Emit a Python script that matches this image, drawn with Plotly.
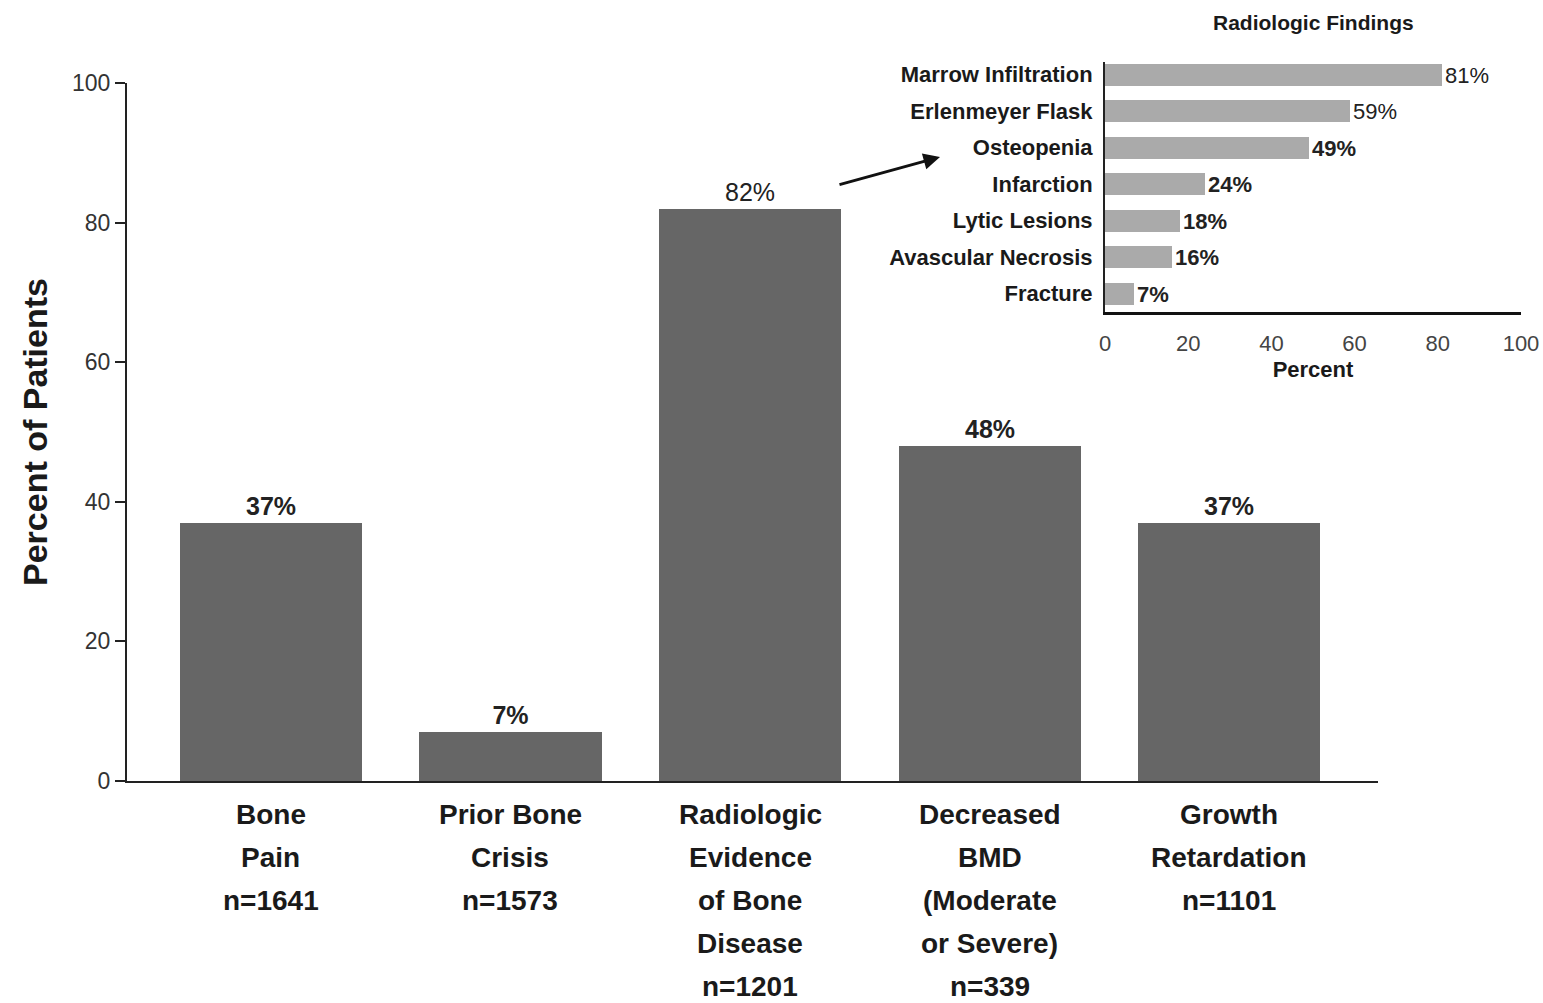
import plotly.graph_objects as go

# Main chart: bone manifestations
categories = ["Bone<br>Pain<br>n=1641",
              "Prior Bone<br>Crisis<br>n=1573",
              "Radiologic<br>Evidence<br>of Bone<br>Disease<br>n=1201",
              "Decreased<br>BMD<br>(Moderate<br>or Severe)<br>n=339",
              "Growth<br>Retardation<br>n=1101"]
percents = [37, 7, 82, 48, 37]
percent_bold = [True, True, False, True, True]

# Inset: radiologic findings
findings = ["Marrow Infiltration", "Erlenmeyer Flask", "Osteopenia", "Infarction",
            "Lytic Lesions", "Avascular Necrosis", "Fracture"]
finding_pct = [81, 59, 49, 24, 18, 16, 7]
finding_bold = [False, False, True, True, True, True, True]

y_ticks = [0, 20, 40, 60, 80, 100]
inset_ticks = [0, 20, 40, 60, 80, 100]

FONT = "Liberation Sans, Arial, sans-serif"
W, H = 1543, 1003


def label(v, bold):
    t = f"{v}%"
    return f"<b>{t}</b>" if bold else t


fig = go.Figure()

xs = list(range(len(categories)))
fig.add_trace(go.Bar(
    x=xs, y=percents, width=0.76,
    marker=dict(color="#666666", line=dict(width=0)),
    text=[label(v, b) for v, b in zip(percents, percent_bold)],
    textposition="outside", cliponaxis=False, constraintext="none",
    textfont=dict(family=FONT, size=25, color="#222222"),
    xaxis="x", yaxis="y", showlegend=False,
))

# inset bars, listed bottom-to-top
fig.add_trace(go.Bar(
    y=findings[::-1], x=finding_pct[::-1], orientation="h", width=0.6,
    marker=dict(color="#aaaaaa", line=dict(width=0)),
    text=[label(v, b) for v, b in zip(finding_pct[::-1], finding_bold[::-1])],
    textposition="outside", cliponaxis=False, constraintext="none",
    textfont=dict(family=FONT, size=22, color="#222222"),
    xaxis="x2", yaxis="y2", showlegend=False,
))

annotations = []
# multi-line category labels below the main axis
for i, cat in enumerate(categories):
    for j, line in enumerate(cat.split("<br>")):
        annotations.append(dict(
            x=i, y=0, xref="x", yref="y", text=f"<b>{line}</b>",
            showarrow=False, xanchor="center", yanchor="middle",
            yshift=-(33 + 43 * j),
            font=dict(family=FONT, size=28, color="#1a1a1a"),
        ))

annotations.append(dict(
    x=35 / W, y=(H - 432) / H, xref="paper", yref="paper",
    xanchor="center", yanchor="middle",
    text="<b>Percent of Patients</b>", textangle=-90, showarrow=False,
    font=dict(family=FONT, size=34, color="#1a1a1a"),
))
annotations.append(dict(
    x=1313 / W, y=(H - 22) / H, xref="paper", yref="paper",
    xanchor="center", yanchor="middle",
    text="<b>Radiologic Findings</b>", showarrow=False,
    font=dict(family=FONT, size=21, color="#1a1a1a"),
))
# arrow linking the radiologic bar to the inset
annotations.append(dict(
    x=940 / W, y=(H - 157) / H, xref="paper", yref="paper",
    ax=-102, ay=28, axref="pixel", ayref="pixel",
    text="", showarrow=True, arrowhead=2, arrowsize=1.1, arrowwidth=3,
    arrowcolor="#111111",
))

fig.update_layout(
    width=W, height=H,
    margin=dict(l=0, r=0, t=0, b=0),
    paper_bgcolor="white", plot_bgcolor="white",
    bargap=0,
    xaxis=dict(
        domain=[127 / W, 1378 / W], range=[-0.6, 4.62], automargin=False,
        showticklabels=False, ticks="", showgrid=False, zeroline=False,
        showline=True, linecolor="#222222", linewidth=2,
    ),
    yaxis=dict(
        domain=[(H - 781) / H, (H - 83) / H], range=[0, 100], automargin=False,
        tickvals=y_ticks, ticks="outside", ticklen=10, tickwidth=2,
        tickcolor="#222222", showgrid=False, zeroline=False,
        showline=True, linecolor="#222222", linewidth=2,
        tickfont=dict(family=FONT, size=23, color="#333333"),
    ),
    xaxis2=dict(
        domain=[1105 / W, 1521 / W], range=[0, 100], anchor="y2", automargin=False,
        tickvals=inset_ticks, ticks="", ticklabelstandoff=10,
        showgrid=False, zeroline=False,
        showline=True, linecolor="#111111", linewidth=3,
        tickfont=dict(family=FONT, size=22, color="#444444"),
        title=dict(text="<b>Percent</b>", standoff=7,
                   font=dict(family=FONT, size=22, color="#1a1a1a")),
    ),
    yaxis2=dict(
        domain=[(H - 312) / H, (H - 62) / H], range=[-0.5, 6.35], anchor="x2",
        type="category", ticks="", ticklabelstandoff=6, automargin=False,
        showgrid=False, zeroline=False,
        showline=True, linecolor="#222222", linewidth=2,
        tickfont=dict(family=FONT, size=22, color="#1a1a1a", weight="bold"),
    ),
    annotations=annotations,
)

fig.write_html("out.html")
